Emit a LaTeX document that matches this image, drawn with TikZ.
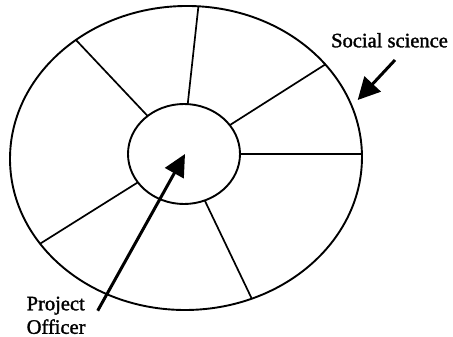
\documentclass[tikz,border=0pt]{standalone}
\usepackage{fontspec}
\setmainfont{Liberation Serif}
\newfontfamily\scanfont{Liberation Serif}[BoldFont=Liberation Serif, BoldFeatures={FakeBold=1.5}]
\usetikzlibrary{arrows.meta,calc}
\begin{document}
\begin{tikzpicture}[x={(1pt,0)},y={(0,-1pt)},
  ring/.style={line width=1.9pt},
  spoke/.style={line width=1.7pt},
  pointer/.style={line width=3pt,-{Triangle[length=22pt,width=21pt]}},
  lbl/.style={inner sep=0pt,font=\scanfont\bfseries\fontsize{20.5}{23.5}\selectfont}]
\useasboundingbox (0,0) rectangle (453,337);
\coordinate (oc) at (186,158);
\coordinate (ic) at (184,154);
% spoke end points: inner (iN) and outer (oN)
\coordinate (i1) at (148.3,116.7); \coordinate (o1) at (76,40);
\coordinate (i2) at (187.7,104.3); \coordinate (o2) at (198.3,7.3);
\coordinate (i3) at (230,125);     \coordinate (o3) at (323.3,65.7);
\coordinate (i4) at (240,154);     \coordinate (o4) at (361,154);
\coordinate (i5) at (205,201);     \coordinate (o5) at (251.7,298.5);
\coordinate (i6) at (137.3,182.7); \coordinate (o6) at (41.7,242.7);
\begin{scope}
  \clip[rotate around={1.1:(oc)}] (oc) ellipse [x radius=176pt, y radius=152pt];
  \foreach \k in {1,...,6}
    \draw[spoke] ($(o\k)!1.3!(i\k)$) -- ($(i\k)!1.15!(o\k)$);
\end{scope}
\draw[ring,rotate around={1.1:(oc)}] (oc) ellipse [x radius=176pt, y radius=152pt];
\draw[ring,fill=white] (ic) ellipse [x radius=56pt, y radius=50pt];
% labels
\node[lbl,anchor=base west] (ss) at (331,47.3) {Social science};
\node[lbl,anchor=north west,align=left] (po) at (26.5,296.5) {Project\\Officer};
% arrows
\coordinate (ssfrom) at (395,60);
\coordinate (sstip) at (357.7,100);
\coordinate (pofrom) at (97.7,310.7);
\coordinate (potip) at (185,154);
\draw[pointer,-{Triangle[length=22pt,width=22pt]}] (ssfrom) -- (sstip);
\draw[pointer] (pofrom) -- (potip);
\end{tikzpicture}
\end{document}
